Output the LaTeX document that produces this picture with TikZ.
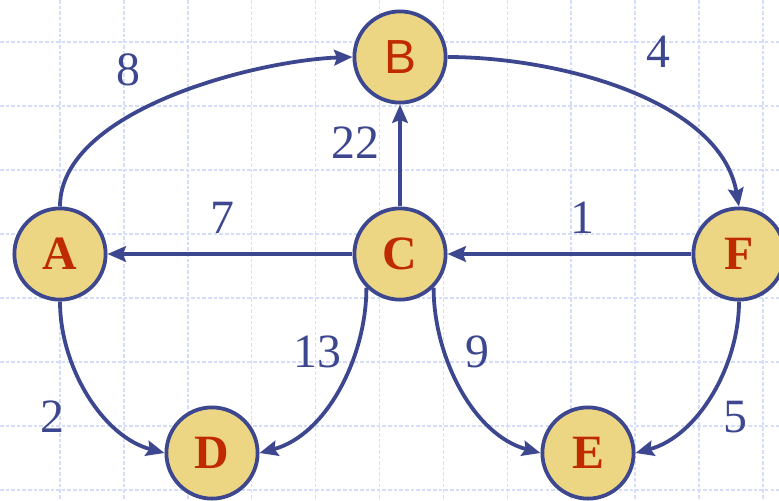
\documentclass[tikz,border=0pt]{standalone}
\usepackage{fontspec}
\setmainfont{Liberation Serif}
\newfontfamily\labelsans{Liberation Sans}
\usetikzlibrary{arrows.meta}
\definecolor{edgeblue}{RGB}{61,71,143}
\definecolor{nodefill}{RGB}{236,214,131}
\definecolor{letterred}{RGB}{192,42,0}
\definecolor{gridblue}{RGB}{212,222,250}

\begin{document}
\begin{tikzpicture}[x=0.025cm, y=-0.025cm, >={Stealth[length=13pt,width=11pt,inset=2pt]},
    vertex/.style={circle, draw=edgeblue, fill=nodefill, line width=2.7pt,
      minimum size=2.28cm, inner sep=0pt, text=letterred,
      font=\fontsize{34}{34}\selectfont\bfseries},
    edge/.style={->, draw=edgeblue, line width=2.7pt},
    weight/.style={text=edgeblue, font=\fontsize{34}{34}\selectfont}]
  \useasboundingbox (0,0) rectangle (779,501);

  % Light dashed grid
  \foreach \i in {0,...,11}
    \draw[gridblue, line width=1pt, dash pattern=on 2.5pt off 1.5pt] ({60+63.9*\i},0) -- ({60+63.9*\i},501);
  \foreach \j in {0,...,7}
    \draw[gridblue, line width=1pt, dash pattern=on 2.5pt off 1.5pt] (0,{42+64*\j}) -- (779,{42+64*\j});

  % Vertices
  \node[vertex, font=\fontsize{34}{34}\selectfont\labelsans] (B) at (400,57) {B};
  \node[vertex] (A) at (60,254) {A};
  \node[vertex] (C) at (400,254) {C};
  \node[vertex] (F) at (739,254) {F};
  \node[vertex] (D) at (212,453) {D};
  \node[vertex] (E) at (588,453) {E};

  % Edges
  \draw[edge] (A.north) to[out=90, in=182, looseness=0.75] (B.west);
  \draw[edge] (B.east) to[out=0, in=100, looseness=0.85] (F.north);
  \draw[edge] (C) -- (B);
  \draw[edge] (C) -- (A);
  \draw[edge] (F) -- (C);
  \draw[edge] (A.south) to[out=-90, in=165, looseness=0.9] (D.west);
  \draw[edge] (C.-135) to[out=-90, in=15, looseness=0.9] (D.east);
  \draw[edge] (C.-45) to[out=-90, in=165, looseness=0.9] (E.west);
  \draw[edge] (F.south) to[out=-90, in=15, looseness=0.9] (E.east);

  % Weights
  \node[weight] (w8) at (128,70) {8};
  \node[weight] (w4) at (658,52) {4};
  \node[weight] (w22) at (355,143) {22};
  \node[weight] (w7) at (222,218) {7};
  \node[weight] (w1) at (582,218) {1};
  \node[weight] (w13) at (317,352) {13};
  \node[weight] (w9) at (477,352) {9};
  \node[weight] (w2) at (52,417) {2};
  \node[weight] (w5) at (735,417) {5};
\end{tikzpicture}
\end{document}
